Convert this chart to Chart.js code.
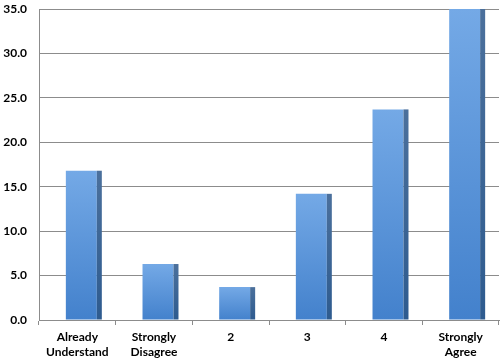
<!DOCTYPE html>
<html>
<head>
<meta charset="utf-8">
<script src="https://cdn.jsdelivr.net/npm/chart.js@4.4.1/dist/chart.umd.min.js"></script>
<style>
  html, body { margin:0; padding:0; background:#fff; }
  #wrap { width:500px; height:361px; position:relative; }
</style>
</head>
<body>
<div id="wrap"><canvas id="chart"></canvas></div>
<script>
// ── DATA ──
const categories = [['Already','Understand'], ['Strongly','Disagree'], '2', '3', '4', ['Strongly','Agree']];
const values = [16.8, 6.3, 3.7, 14.2, 23.7, 35.0];
const yTicks = [0, 5, 10, 15, 20, 25, 30, 35];

const SIDE = 5;     // depth of the dark side face
const SHIFT = 4;    // perspective shift to the right

// draws the dark right-hand face of each column and shifts the columns a touch
const depthPlugin = {
    id: 'depth',
    beforeDatasetsDraw(chart) {
        chart.ctx.save();
        chart.ctx.translate(SHIFT, 0);
    },
    afterDatasetsDraw(chart) {
        const ctx = chart.ctx;
        const meta = chart.getDatasetMeta(0);
        meta.data.forEach(bar => {
            const p = bar.getProps(['x', 'y', 'base', 'width'], true);
            const x0 = p.x + p.width / 2;
            const g = ctx.createLinearGradient(0, p.y, 0, p.base);
            g.addColorStop(0, '#4b709c');
            g.addColorStop(1, '#2e5b8f');
            ctx.fillStyle = g;
            ctx.fillRect(x0, p.y, SIDE, p.base - p.y);
        });
        ctx.restore();
    }
};

function frontFill(context) {
    const { chart, dataIndex } = context;
    const ys = chart.scales && chart.scales.y;
    if (!ys || dataIndex === undefined) return '#5b95d8';
    const top = ys.getPixelForValue(values[dataIndex]);
    const base = ys.getPixelForValue(0);
    if (!isFinite(top) || !isFinite(base) || top === base) return '#5b95d8';
    const g = chart.ctx.createLinearGradient(0, top, 0, base);
    g.addColorStop(0, '#74a9e6');
    g.addColorStop(1, '#4381cc');
    return g;
}

new Chart(document.getElementById('chart'), {
    type: 'bar',
    data: {
        labels: categories,
        datasets: [{
            data: values,
            backgroundColor: frontFill,
            borderWidth: 0,
            categoryPercentage: 1,
            barPercentage: 0.404
        }]
    },
    options: {
        responsive: true, maintainAspectRatio: false, animation: false,
        layout: { padding: { top: 9, right: 1, left: 0, bottom: 0 } },
        plugins: { legend: { display: false }, tooltip: { enabled: false } },
        scales: {
            x: {
                grid: { drawOnChartArea: false, drawTicks: true, tickLength: 5, offset: true, color: '#8c8c8c' },
                border: { color: '#8c8c8c' },
                ticks: { color: '#000', font: { family: 'Lato', weight: 'bold', size: 12, lineHeight: 1.25 }, padding: 5, maxRotation: 0, autoSkip: false },
                afterFit(s) { s.height = 41; s.paddingLeft = 0; s.paddingRight = 0; }
            },
            y: {
                min: 0, max: 35,
                afterBuildTicks(s) { s.ticks = yTicks.map(v => ({ value: v })); },
                grid: { drawTicks: false, color: '#8c8c8c' },
                border: { color: '#8c8c8c' },
                ticks: { color: '#000', font: { family: 'Lato', weight: 'bold', size: 12 }, padding: 12,
                         callback: v => v.toFixed(1) },
                afterFit(s) { s.width = 39; s.paddingTop = 0; s.paddingBottom = 0; }
            }
        }
    },
    plugins: [depthPlugin]
});
</script>
</body>
</html>
